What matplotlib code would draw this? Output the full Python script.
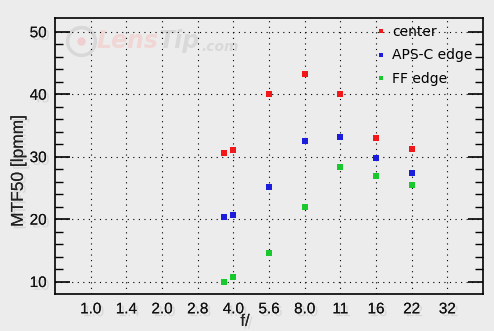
import matplotlib.pyplot as plt
import matplotlib.patheffects as pe

# f-stop axis labels (placed at equal spacing)
fstop_labels = ["1.0", "1.4", "2.0", "2.8", "4.0", "5.6", "8.0", "11", "16", "22", "32"]

# measured apertures as positions on the stop axis (3.75 ~ f/3.6)
aperture_pos = [3.75, 4, 5, 6, 7, 8, 9]

center = [30.6, 31.1, 40.1, 43.2, 40.0, 33.0, 31.2]
apsc_edge = [20.4, 20.6, 25.2, 32.5, 33.1, 29.8, 27.4]
ff_edge = [10.0, 10.8, 14.6, 22.0, 28.3, 26.9, 25.4]

series = [
    ("center", center, "#f01818"),
    ("APS-C edge", apsc_edge, "#1c1cdc"),
    ("FF edge", ff_edge, "#18c82c"),
]

bg = "#ececec"
axfont = "Liberation Sans"
shadow = [pe.withSimplePatchShadow(offset=(2, -2), shadow_rgbFace="#c4c4c4", alpha=0.5), pe.Normal()]

fig = plt.figure(figsize=(4.94, 3.31), dpi=100, facecolor=bg)
ax = fig.add_axes([55 / 494, 1 - 294 / 331, (483 - 55) / 494, (294 - 18) / 331])
ax.set_facecolor(bg)

# faded watermark, pieces placed one after another
wy = 0.915
ax.plot([0.06], [wy], transform=ax.transAxes, marker="o", markersize=20,
        markerfacecolor="none", markeredgecolor="#d8d8d8", markeredgewidth=2.5, zorder=0)
ax.plot([0.06], [wy], transform=ax.transAxes, marker="o", markersize=6,
        markerfacecolor="#efcfcf", markeredgewidth=0, zorder=0)
renderer = fig.canvas.get_renderer()
wx = 0.098
for piece, col, size, dy in [("Lens", "#f1d6d6", 17, 0), ("Tip", "#d9d9d9", 17, 0),
                             (".com", "#d9d9d9", 10, -0.02)]:
    t = ax.text(wx, wy + dy, piece, transform=ax.transAxes, color=col, fontsize=size,
                fontweight="bold", style="italic", va="center", zorder=0)
    bb = t.get_window_extent(renderer).transformed(ax.transAxes.inverted())
    wx = bb.x1 + 0.001

for name, vals, col in series:
    ax.plot(aperture_pos, vals, linestyle="none", marker="s", markersize=4.2,
            color=col, markeredgewidth=0, label=name, zorder=3)

ax.set_xlim(-1, 11)
ax.set_ylim(8, 52.2)
ax.set_xticks(range(len(fstop_labels)))
ax.set_xticklabels(fstop_labels)
ax.set_yticks([10, 20, 30, 40, 50])
ax.set_yticks(range(12, 52, 2), minor=True)

ax.grid(True, which="major", color="black", linestyle=(0, (1, 4)), linewidth=0.8)
ax.tick_params(axis="x", length=0, pad=6, labelsize=11)
ax.tick_params(axis="y", which="major", direction="in", length=11, width=1.2,
               left=True, right=True, labelsize=11, pad=6)
ax.tick_params(axis="y", which="minor", direction="in", length=6, width=1,
               left=True, right=True)
for lab in ax.get_xticklabels() + ax.get_yticklabels():
    lab.set_path_effects(shadow)
    lab.set_color("#111111")
    lab.set_fontfamily(axfont)

for sp in ax.spines.values():
    sp.set_linewidth(1.2)

ax.set_ylabel("MTF50 [lpmm]", fontsize=12.5, color="#222222", family=axfont)
ax.set_xlabel("f/", fontsize=12, color="#222222", family=axfont)
ax.xaxis.set_label_coords(0.444, -0.072)
ax.yaxis.set_label_coords(-0.068, 0.446)
ax.yaxis.label.set_path_effects(shadow)
ax.xaxis.label.set_path_effects(shadow)

ax.legend(loc="upper right", bbox_to_anchor=(1.004, 1.02), frameon=False,
          fontsize=10, handlelength=0.5, handletextpad=0.5,
          labelspacing=0.68, markerscale=0.8)

fig.savefig("out.png", dpi=100, facecolor=bg)
